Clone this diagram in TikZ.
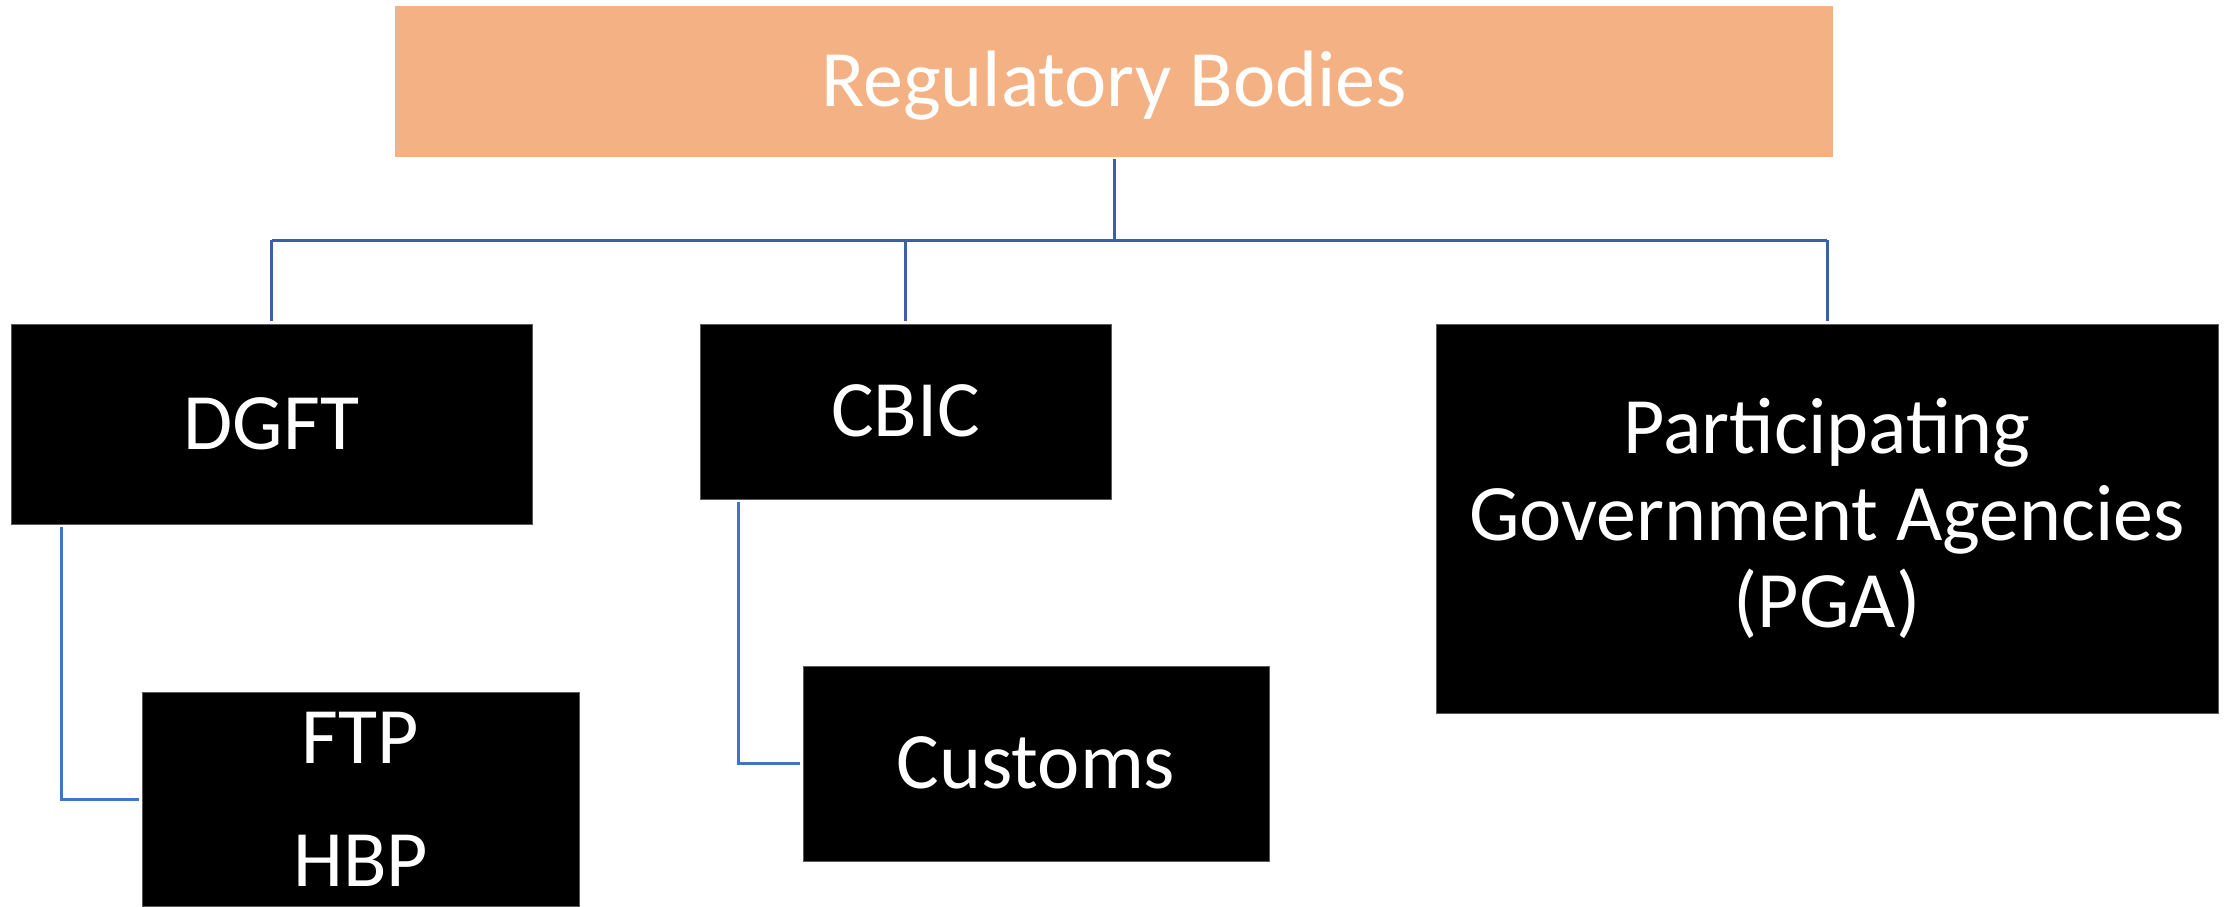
\documentclass[tikz,border=0pt]{standalone}
\usepackage{fontspec}
\setmainfont{Carlito}
\definecolor{orangebox}{HTML}{F4B183}
\definecolor{topline}{HTML}{3E5FA8}
\definecolor{subline}{HTML}{4472C4}
\definecolor{edgegray}{HTML}{5A5A5A}
\tikzset{
  blackbox/.style={rectangle, fill=black, draw=edgegray, line width=0.4pt, inner sep=0pt,
    text=white, font={\fontsize{40}{43.5}\selectfont}, align=center},
  titlebox/.style={rectangle, fill=orangebox, draw=none, inner sep=0pt,
    text=white, font={\fontsize{40}{43.5}\selectfont}},
  capline/.style={text height=25.3pt, text depth=0pt},
  conntop/.style={draw=topline, line width=1.5pt},
  connsub/.style={draw=subline, line width=1.5pt},
}
\begin{document}
\begin{tikzpicture}[x=0.5pt,y=-0.5pt]
\useasboundingbox (0,0) rectangle (2230,906);
\fill[white] (0,0) rectangle (2230,906);

\node[titlebox, capline, minimum width=719pt, minimum height=75.5pt] (top) at (1114,81.5) {Regulatory Bodies};

\node[blackbox, capline, minimum width=260.5pt, minimum height=100pt] (dgft) at (271.5,424) {DGFT};
\node[blackbox, capline, minimum width=205.5pt, minimum height=87.5pt] (cbic) at (905.5,411.5) {CBIC};
\node[blackbox, minimum width=391pt, minimum height=194.5pt] (pga) at (1827,518.5) {Participating\\Government Agencies\\(PGA)};
\node[blackbox, minimum width=218.5pt, minimum height=107pt, font={\fontsize{40}{61.5}\selectfont}] (ftp) at (360.5,799) {FTP\\HBP};
\node[blackbox, capline, minimum width=233pt, minimum height=97.5pt] (customs) at (1036,763.5) {Customs};

\coordinate (bus) at (1114,240);
\draw[conntop] ([yshift=-1pt]top.south) -- (bus);
\draw[conntop] (dgft.north |- bus) -- (pga.north |- bus);
\draw[conntop] (dgft.north |- bus) -- ([yshift=1.5pt]dgft.north);
\draw[conntop] (cbic.north |- bus) -- ([yshift=1.5pt]cbic.north);
\draw[conntop] (pga.north |- bus) -- ([yshift=1.5pt]pga.north);

\draw[connsub] ([xshift=25.5pt,yshift=-1.5pt]dgft.south west) |- ([xshift=-1.5pt]ftp.west);
\draw[connsub] ([xshift=19.5pt,yshift=-1.5pt]cbic.south west) |- ([xshift=-1.5pt]customs.west);
\end{tikzpicture}
\end{document}
